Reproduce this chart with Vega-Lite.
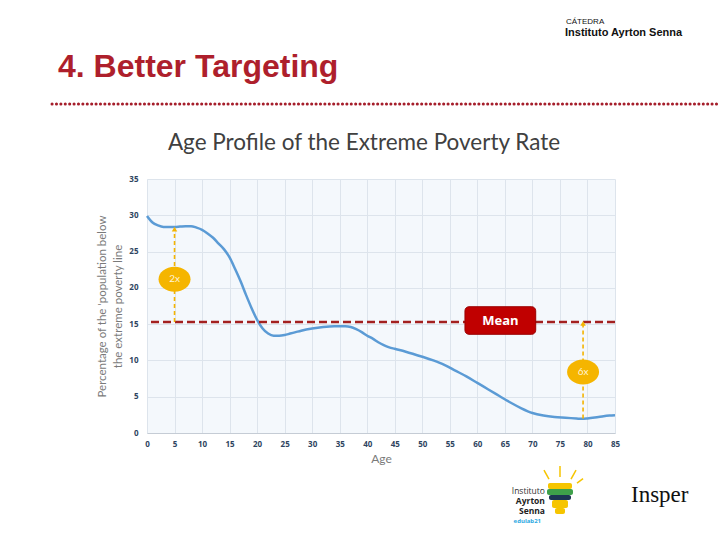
{
  "$schema": "https://vega.github.io/schema/vega-lite/v6.json",
  "width": 468,
  "height": 254,
  "autosize": {"type": "none"},
  "padding": {"left": 147, "top": 179, "right": 105, "bottom": 107},
  "background": "white",
  "config": {
    "view": {"fill": "#F4F8FC", "stroke": null},
    "axis": {"gridColor": "#DDE4EC", "gridWidth": 1, "ticks": false, "labelFont": "Open Sans", "labelFontWeight": "bold", "labelFontSize": 8, "labelColor": "#2E4460", "titleFont": "Lato", "titleFontWeight": "normal", "titleColor": "#7A7A7A"}
  },
  "resolve": {"axis": {"x": "independent", "y": "independent"}},
  "layer": [
    {
      "data": {"values": [
        {"age": 0, "rate": 29.9}, {"age": 1, "rate": 29.0}, {"age": 2, "rate": 28.6}, {"age": 3, "rate": 28.4}, {"age": 4, "rate": 28.4}, {"age": 5, "rate": 28.4}, {"age": 6, "rate": 28.45}, {"age": 7, "rate": 28.5}, {"age": 8, "rate": 28.5}, {"age": 9, "rate": 28.3}, {"age": 10, "rate": 28.0}, {"age": 11, "rate": 27.5}, {"age": 12, "rate": 26.9}, {"age": 13, "rate": 26.1}, {"age": 14, "rate": 25.3}, {"age": 15, "rate": 24.2}, {"age": 16, "rate": 22.6}, {"age": 17, "rate": 20.9}, {"age": 18, "rate": 19.0}, {"age": 19, "rate": 17.2}, {"age": 20, "rate": 15.6}, {"age": 21, "rate": 14.4}, {"age": 22, "rate": 13.7}, {"age": 23, "rate": 13.4}, {"age": 24, "rate": 13.4}, {"age": 25, "rate": 13.5}, {"age": 26, "rate": 13.7}, {"age": 27, "rate": 13.9}, {"age": 28, "rate": 14.1}, {"age": 30, "rate": 14.4}, {"age": 32, "rate": 14.6}, {"age": 34, "rate": 14.7}, {"age": 36, "rate": 14.7}, {"age": 37, "rate": 14.6}, {"age": 38, "rate": 14.3}, {"age": 39, "rate": 13.9}, {"age": 40, "rate": 13.4}, {"age": 41, "rate": 13.0}, {"age": 42, "rate": 12.5}, {"age": 43, "rate": 12.1}, {"age": 44, "rate": 11.8}, {"age": 45, "rate": 11.6}, {"age": 47, "rate": 11.2}, {"age": 50, "rate": 10.5}, {"age": 52, "rate": 10.0}, {"age": 54, "rate": 9.4}, {"age": 56, "rate": 8.6}, {"age": 58, "rate": 7.8}, {"age": 60, "rate": 6.9}, {"age": 62, "rate": 6.0}, {"age": 64, "rate": 5.1}, {"age": 66, "rate": 4.2}, {"age": 68, "rate": 3.4}, {"age": 70, "rate": 2.75}, {"age": 72, "rate": 2.4}, {"age": 74, "rate": 2.2}, {"age": 76, "rate": 2.1}, {"age": 78, "rate": 2.0}, {"age": 79, "rate": 1.95}, {"age": 80, "rate": 2.0}, {"age": 82, "rate": 2.2}, {"age": 84, "rate": 2.4}, {"age": 85, "rate": 2.45}
      ]},
      "mark": {"type": "line", "color": "#5B9BD5", "strokeWidth": 2.5, "interpolate": "monotone"},
      "encoding": {
        "x": {"field": "age", "type": "quantitative", "scale": {"domain": [0, 85], "nice": false},
          "axis": {"title": "Age", "values": [0,5,10,15,20,25,30,35,40,45,50,55,60,65,70,75,80,85], "labelFlush": false, "labelOverlap": false, "labelPadding": 7, "titlePadding": 5, "titleFontSize": 12, "domainColor": "#C5CCD5"}},
        "y": {"field": "rate", "type": "quantitative", "scale": {"domain": [0, 35], "nice": false},
          "axis": {"title": ["Percentage of the 'population below", "the extreme poverty line"], "values": [0,5,10,15,20,25,30,35], "labelFlush": false, "labelOverlap": false, "labelPadding": 9, "titlePadding": 5, "titleFontSize": 11.5, "titleLineHeight": 16, "domain": false}}
      }
    },
    {
      "data": {"values": [{"mean": 15.3}]},
      "mark": {"type": "rule", "color": "#A3201F", "strokeWidth": 2.5, "strokeDash": [8, 4]},
      "encoding": {"y": {"field": "mean", "type": "quantitative", "scale": {"domain": [0, 35], "nice": false}, "axis": null}}
    },
    {
      "data": {"values": [{"age": 5, "lo": 15.3, "hi": 28.1, "mid": 21.2, "label": "2x"}, {"age": 79.2, "lo": 2.0, "hi": 15.1, "mid": 8.4, "label": "6x"}]},
      "layer": [
        {"mark": {"type": "rule", "color": "#F4B400", "strokeWidth": 1.6, "strokeDash": [4, 3]},
         "encoding": {"x": {"field": "age", "type": "quantitative", "scale": {"domain": [0, 85], "nice": false}, "axis": null}, "y": {"field": "lo", "type": "quantitative", "scale": {"domain": [0, 35], "nice": false}, "axis": null}, "y2": {"field": "hi"}}},
        {"mark": {"type": "point", "shape": "triangle-up", "filled": true, "color": "#F4B400", "size": 30, "opacity": 1},
         "encoding": {"x": {"field": "age", "type": "quantitative", "scale": {"domain": [0, 85], "nice": false}, "axis": null}, "y": {"field": "hi", "type": "quantitative", "scale": {"domain": [0, 35], "nice": false}, "axis": null}}},
        {"mark": {"type": "point", "shape": "M-1,0A1,0.78,0,1,0,1,0A1,0.78,0,1,0,-1,0Z", "filled": true, "color": "#F5B500", "size": 1024, "opacity": 1},
         "encoding": {"x": {"field": "age", "type": "quantitative", "scale": {"domain": [0, 85], "nice": false}, "axis": null}, "y": {"field": "mid", "type": "quantitative", "scale": {"domain": [0, 35], "nice": false}, "axis": null}}},
        {"mark": {"type": "text", "color": "#FFF4D6", "font": "Lato", "fontSize": 10, "align": "center", "baseline": "middle"},
         "encoding": {"x": {"field": "age", "type": "quantitative", "scale": {"domain": [0, 85], "nice": false}, "axis": null}, "y": {"field": "mid", "type": "quantitative", "scale": {"domain": [0, 35], "nice": false}, "axis": null}, "text": {"field": "label"}}}
      ]
    },
    {
      "data": {"values": [{"x1": 57.75, "x2": 70.6, "y1": 13.6, "y2": 17.4, "cx": 64.2, "cy": 15.4, "label": "Mean"}]},
      "layer": [
        {"mark": {"type": "rect", "fill": "#C00000", "stroke": "#9A0000", "strokeWidth": 1, "cornerRadius": 4},
         "encoding": {"x": {"field": "x1", "type": "quantitative", "scale": {"domain": [0, 85], "nice": false}, "axis": null}, "x2": {"field": "x2"}, "y": {"field": "y1", "type": "quantitative", "scale": {"domain": [0, 35], "nice": false}, "axis": null}, "y2": {"field": "y2"}}},
        {"mark": {"type": "text", "color": "white", "font": "Open Sans", "fontWeight": "bold", "fontSize": 13, "align": "center", "baseline": "middle"},
         "encoding": {"x": {"field": "cx", "type": "quantitative", "scale": {"domain": [0, 85], "nice": false}, "axis": null}, "y": {"field": "cy", "type": "quantitative", "scale": {"domain": [0, 35], "nice": false}, "axis": null}, "text": {"field": "label"}}}
      ]
    },
    {
      "data": {"values": [{"age": 39.41, "value": 39.96, "label": "Age Profile of the Extreme Poverty Rate"}]},
      "mark": {"type": "text", "color": "#404040", "font": "Lato", "fontSize": 22.5, "align": "center", "baseline": "middle"},
      "encoding": {"x": {"field": "age", "type": "quantitative", "scale": {"domain": [0, 85], "nice": false}, "axis": null}, "y": {"field": "value", "type": "quantitative", "scale": {"domain": [0, 35], "nice": false}, "axis": null}, "text": {"field": "label"}}
    },
    {
      "data": {"values": [{"age": -16.16, "value": 50.43, "label": "4. Better Targeting"}]},
      "mark": {"type": "text", "color": "#AE1F2C", "font": "Liberation Sans", "fontWeight": "bold", "fontSize": 32, "align": "left", "baseline": "middle"},
      "encoding": {"x": {"field": "age", "type": "quantitative", "scale": {"domain": [0, 85], "nice": false}, "axis": null}, "y": {"field": "value", "type": "quantitative", "scale": {"domain": [0, 35], "nice": false}, "axis": null}, "text": {"field": "label"}}
    },
    {
      "data": {"values": [{"age": 76.1, "value": 56.64, "label": "CÁTEDRA"}]},
      "mark": {"type": "text", "color": "#111111", "font": "Liberation Sans", "fontSize": 8, "align": "left", "baseline": "middle"},
      "encoding": {"x": {"field": "age", "type": "quantitative", "scale": {"domain": [0, 85], "nice": false}, "axis": null}, "y": {"field": "value", "type": "quantitative", "scale": {"domain": [0, 35], "nice": false}, "axis": null}, "text": {"field": "label"}}
    },
    {
      "data": {"values": [{"age": 75.92, "value": 55.12, "label": "Instituto Ayrton Senna"}]},
      "mark": {"type": "text", "color": "#111111", "font": "Liberation Sans", "fontWeight": "bold", "fontSize": 11, "align": "left", "baseline": "middle"},
      "encoding": {"x": {"field": "age", "type": "quantitative", "scale": {"domain": [0, 85], "nice": false}, "axis": null}, "y": {"field": "value", "type": "quantitative", "scale": {"domain": [0, 35], "nice": false}, "axis": null}, "text": {"field": "label"}}
    },
    {
      "data": {"values": [{"a1": -17.25, "a2": 103.7, "value": 45.33}]},
      "mark": {"type": "rule", "color": "#A51E2B", "strokeWidth": 3, "strokeCap": "round", "strokeDash": [0.1, 4.3]},
      "encoding": {"x": {"field": "a1", "type": "quantitative", "scale": {"domain": [0, 85], "nice": false}, "axis": null}, "x2": {"field": "a2"}, "y": {"field": "value", "type": "quantitative", "scale": {"domain": [0, 35], "nice": false}, "axis": null}}
    },
    {
      "data": {"values": [
        {"band": "yellow", "a1": 72.83, "a2": 77.19, "v1": -6.89, "v2": -7.72},
        {"band": "green", "a1": 72.65, "a2": 77.37, "v1": -7.72, "v2": -8.54},
        {"band": "navy", "a1": 73.01, "a2": 77.01, "v1": -8.54, "v2": -9.23},
        {"band": "yellow", "a1": 73.56, "a2": 76.46, "v1": -9.23, "v2": -10.33},
        {"band": "yellow", "a1": 74.10, "a2": 75.92, "v1": -10.33, "v2": -11.16}
      ]},
      "mark": {"type": "rect", "cornerRadius": 2},
      "encoding": {"x": {"field": "a1", "type": "quantitative", "scale": {"domain": [0, 85], "nice": false}, "axis": null}, "x2": {"field": "a2"}, "y": {"field": "v1", "type": "quantitative", "scale": {"domain": [0, 35], "nice": false}, "axis": null}, "y2": {"field": "v2"},
        "color": {"field": "band", "type": "nominal", "scale": {"domain": ["yellow", "green", "navy"], "range": ["#F6C500", "#3EA04A", "#1C3553"]}, "legend": null}}
    },
    {
      "data": {"values": [
        {"a1": 75.01, "a2": 75.01, "v1": -4.55, "v2": -6.06},
        {"a1": 72.10, "a2": 73.01, "v1": -5.10, "v2": -6.34},
        {"a1": 77.92, "a2": 77.01, "v1": -5.10, "v2": -6.34},
        {"a1": 79.2, "a2": 78.1, "v1": -6.3, "v2": -6.9}
      ]},
      "mark": {"type": "rule", "color": "#F6C500", "strokeWidth": 1.5},
      "encoding": {"x": {"field": "a1", "type": "quantitative", "scale": {"domain": [0, 85], "nice": false}, "axis": null}, "x2": {"field": "a2"}, "y": {"field": "v1", "type": "quantitative", "scale": {"domain": [0, 35], "nice": false}, "axis": null}, "y2": {"field": "v2"}}
    },
    {
      "data": {"values": [{"age": 72.28, "value": -8.0, "label": "Instituto"}]},
      "mark": {"type": "text", "color": "#333333", "font": "Open Sans", "fontSize": 8.5, "align": "right", "baseline": "middle"},
      "encoding": {"x": {"field": "age", "type": "quantitative", "scale": {"domain": [0, 85], "nice": false}, "axis": null}, "y": {"field": "value", "type": "quantitative", "scale": {"domain": [0, 35], "nice": false}, "axis": null}, "text": {"field": "label"}}
    },
    {
      "data": {"values": [{"age": 72.28, "value": -9.4, "label": "Ayrton"}, {"age": 72.28, "value": -10.8, "label": "Senna"}]},
      "mark": {"type": "text", "color": "#222222", "font": "Open Sans", "fontWeight": "bold", "fontSize": 8.5, "align": "right", "baseline": "middle"},
      "encoding": {"x": {"field": "age", "type": "quantitative", "scale": {"domain": [0, 85], "nice": false}, "axis": null}, "y": {"field": "value", "type": "quantitative", "scale": {"domain": [0, 35], "nice": false}, "axis": null}, "text": {"field": "label"}}
    },
    {
      "data": {"values": [{"age": 71.56, "value": -12.13, "label": "edulab21"}]},
      "mark": {"type": "text", "color": "#2AA7DF", "font": "Open Sans", "fontWeight": "bold", "fontSize": 6, "align": "right", "baseline": "middle"},
      "encoding": {"x": {"field": "age", "type": "quantitative", "scale": {"domain": [0, 85], "nice": false}, "axis": null}, "y": {"field": "value", "type": "quantitative", "scale": {"domain": [0, 35], "nice": false}, "axis": null}, "text": {"field": "label"}}
    },
    {
      "data": {"values": [{"age": 87.9, "value": -8.54, "label": "Insper"}]},
      "mark": {"type": "text", "color": "#111111", "font": "Liberation Serif", "fontSize": 23, "align": "left", "baseline": "middle"},
      "encoding": {"x": {"field": "age", "type": "quantitative", "scale": {"domain": [0, 85], "nice": false}, "axis": null}, "y": {"field": "value", "type": "quantitative", "scale": {"domain": [0, 35], "nice": false}, "axis": null}, "text": {"field": "label"}}
    }
  ]
}
